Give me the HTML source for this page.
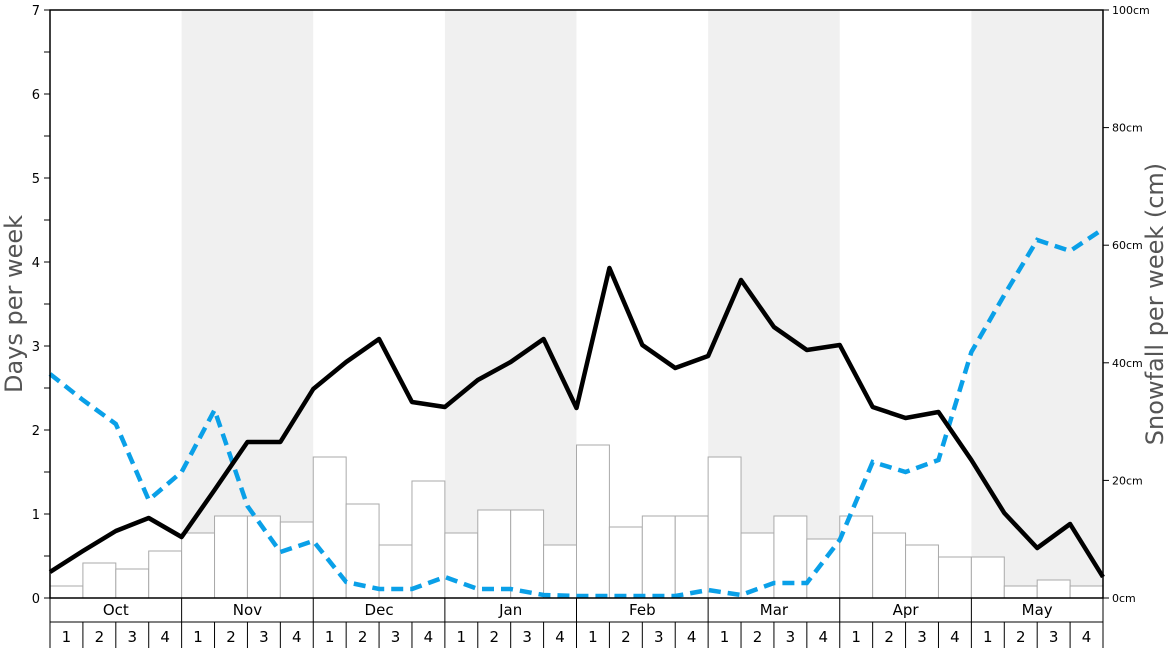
<!DOCTYPE html>
<html><head><meta charset="utf-8"><style>
body{margin:0;background:#fff;}
svg{display:block;font-family:"DejaVu Sans","Liberation Sans",sans-serif;}
</style></head><body>
<svg width="1168" height="648" viewBox="0 0 1168 648" xmlns="http://www.w3.org/2000/svg">
<rect x="0" y="0" width="1168" height="648" fill="#fff"/>
<rect x="181.6" y="10" width="131.6" height="588" fill="#f0f0f0"/>
<rect x="444.9" y="10" width="131.6" height="588" fill="#f0f0f0"/>
<rect x="708.1" y="10" width="131.6" height="588" fill="#f0f0f0"/>
<rect x="971.4" y="10" width="131.6" height="588" fill="#f0f0f0"/>
<g id="bars" fill="#fff" stroke="#aaa" stroke-width="1"></g>
<polyline id="blue" fill="none" stroke="#0aa0e8" stroke-width="4.5" stroke-dasharray="12,7"/>
<polyline id="black" fill="none" stroke="#000" stroke-width="4.5" stroke-linejoin="round"/>
<rect x="50" y="10" width="1053" height="588" fill="none" stroke="#000" stroke-width="1.5"/>
<g id="axes" stroke="#000" stroke-width="1"></g>
<g id="txt" font-size="13" fill="#000"></g>
<text x="22" y="304" font-size="24" fill="#555" text-anchor="middle" transform="rotate(-90 22 304)">Days per week</text>
<text x="1163" y="304" font-size="24" fill="#555" text-anchor="middle" transform="rotate(-90 1163 304)">Snowfall per week (cm)</text>
</svg>
<script>
const NS="http://www.w3.org/2000/svg";
function el(p,t,a,tx){const e=document.createElementNS(NS,t);for(const k in a)e.setAttribute(k,a[k]);if(tx!==undefined)e.textContent=tx;p.appendChild(e);return e;}
const w=1053/32,x0=50;
const tops=[586,563,569,551,533,516,516,522,457,504,545,481,533,510,510,545,445,527,516,516,457,533,516,539,516,533,545,557,557,586,580,586];
const bars=document.getElementById('bars');
tops.forEach((t,i)=>el(bars,'rect',{x:x0+i*w,y:t,width:w,height:598-t}));
const bk=[572,551,531,518,537,490,442,442,389,362,339,402,407,380,362,339,408,268,345,368,356,280,327,350,345,407,418,412,460,513,548,524,577];
const bl=[374,400,424,500,472,410,506,552,541,582,589,589,577,589,589,595,596,596,596,596,590,595,583,583,540,462,472,460,352,295,240,251,229];
document.getElementById('black').setAttribute('points',bk.map((y,i)=>(x0+i*w)+','+y).join(' '));
document.getElementById('blue').setAttribute('points',bl.map((y,i)=>(x0+i*w)+','+y).join(' '));
const ax=document.getElementById('axes'),tx=document.getElementById('txt');
for(let v=0;v<=14;v++){const y=598-v*42;el(ax,'line',{x1:44,x2:50,y1:y,y2:y});if(v%2==0)el(tx,'text',{x:40,y:y+5,'text-anchor':'end'},v/2);}
for(let c=0;c<=5;c++){const y=598-c*117.6;el(ax,'line',{x1:1103,x2:1109,y1:y,y2:y});el(tx,'text',{x:1112,y:y+4,'font-size':11},(c*20)+'cm');}
el(ax,'line',{x1:50,x2:1103,y1:622,y2:622});
el(ax,'line',{x1:50,x2:50,y1:598,y2:648});el(ax,'line',{x1:1103,x2:1103,y1:598,y2:648});
const m=['Oct','Nov','Dec','Jan','Feb','Mar','Apr','May'];
for(let i=0;i<32;i++){const x=x0+i*w;el(ax,'line',{x1:x,x2:x,y1:i%4==0?598:622,y2:648});el(tx,'text',{x:x+w/2,y:642,'text-anchor':'middle','font-size':15},(i%4)+1);}
m.forEach((s,i)=>el(tx,'text',{x:x0+(i*4+2)*w,y:615,'text-anchor':'middle','font-size':15},s));
</script>
</body></html>
